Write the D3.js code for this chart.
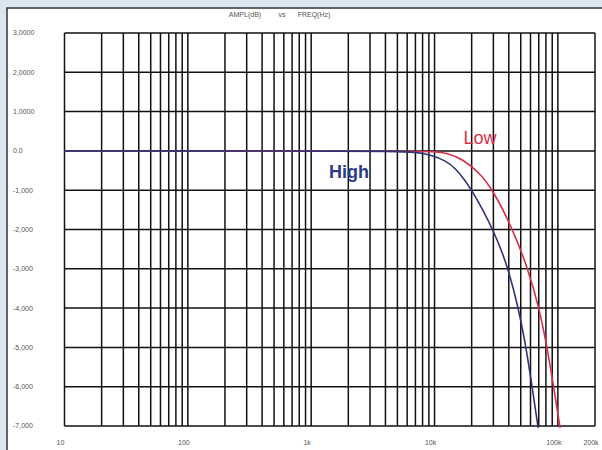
<!DOCTYPE html>
<html>
<head>
<meta charset="utf-8">
<script src="https://cdn.jsdelivr.net/npm/d3@7"></script>
<style>
  body { margin: 0; background: #dce6f1; }
  svg { display: block; font-family: "Liberation Sans", Arial, sans-serif; }
</style>
</head>
<body>
<div id="chart"></div>
<script>
// values: [frequency Hz, amplitude dB]
var highData = [
  [10, 0], [1000, 0], [5000, -0.01], [7000, -0.03], [9200, -0.09], [12600, -0.26],
  [15000, -0.47], [17500, -0.73], [20000, -1], [25000, -1.53], [29900, -2.03],
  [35000, -2.54], [39500, -3.01], [47600, -3.96], [54300, -4.87], [60700, -5.83], [69200, -7.05]
];
var lowData = [
  [10, 0], [1000, 0], [7000, -0.01], [10000, -0.02], [12600, -0.05], [17000, -0.21],
  [23400, -0.57], [29700, -1], [41800, -1.9], [57400, -3], [70500, -4],
  [81800, -5], [91600, -5.92], [104200, -7.05]
];
var yTicks = [3, 2, 1, 0, -1, -2, -3, -4, -5, -6, -7];
var yTickLabels = ['3,0000', '2,0000', '1,0000', '0,0', '-1,000', '-2,000', '-3,000', '-4,000', '-5,000', '-6,000', '-7,000'];
var xTicks = [10, 100, 1000, 10000, 100000, 200000];
var xTickLabels = ['10', '100', '1k', '10k', '100k', '200k'];
var seriesNames = ['High', 'Low'];

var width = 602, height = 450;
var margin = {left: 64.5, right: 7, top: 33, bottom: 24};

var svg = d3.select('#chart').append('svg')
  .attr('width', width)
  .attr('height', height);

// white panel with dark edge
svg.append('rect')
  .attr('x', 7).attr('y', 8)
  .attr('width', width).attr('height', height)
  .style('fill', '#fff')
  .style('stroke', '#333')
  .style('stroke-width', 1.5);

var x = d3.scaleLog()
  .domain([10, 200000])
  .range([margin.left, width - margin.right]);
var y = d3.scaleLinear()
  .domain([-7, 3])
  .range([height - margin.bottom, margin.top]);

var g = svg.append('g');

// vertical grid
g.selectAll('.vgrid')
  .data(x.ticks())
  .enter()
  .append('line')
  .attr('class', 'vgrid')
  .attr('x1', function(d){ return x(d); })
  .attr('x2', function(d){ return x(d); })
  .attr('y1', y(3))
  .attr('y2', y(-7))
  .style('stroke', '#111')
  .style('stroke-width', 1.5);

// horizontal grid
g.selectAll('.hgrid')
  .data(yTicks)
  .enter()
  .append('line')
  .attr('class', 'hgrid')
  .attr('x1', x(10))
  .attr('x2', x(200000))
  .attr('y1', function(d){ return y(d); })
  .attr('y2', function(d){ return y(d); })
  .style('stroke', '#111')
  .style('stroke-width', 1.5);

// y labels
g.selectAll('.ylab')
  .data(yTicks)
  .enter()
  .append('text')
  .attr('class', 'ylab')
  .attr('x', 13)
  .attr('y', function(d){ return y(d); })
  .attr('dy', '0.35em')
  .style('font-size', '7px')
  .style('fill', '#555')
  .text(function(d, i){ return yTickLabels[i]; });

// x labels
g.selectAll('.xlab')
  .data(xTicks)
  .enter()
  .append('text')
  .attr('class', 'xlab')
  .attr('x', function(d){ return x(d) - 4; })
  .attr('y', 445)
  .attr('text-anchor', 'middle')
  .style('font-size', '7px')
  .style('fill', '#555')
  .text(function(d, i){ return xTickLabels[i]; });

// title
var title = [['AMPL(dB)', 245], ['vs', 282], ['FREQ(Hz)', 314]];
title.forEach(function(t){
  svg.append('text')
    .attr('x', t[1]).attr('y', 17)
    .attr('text-anchor', 'middle')
    .style('font-size', '7px')
    .style('fill', '#555')
    .text(t[0]);
});

var line = d3.line()
  .x(function(d){ return x(d[0]); })
  .y(function(d){ return y(d[1]); })
  .curve(d3.curveBasis);

var colors = {High: '#2e3577', Low: '#d8304c'};

// Low first so High sits on top along the flat part
[lowData, highData].forEach(function(data, i){
  var name = seriesNames[1 - i];
  g.append('path')
    .datum(data)
    .attr('d', line)
    .style('fill', 'none')
    .style('stroke', colors[name])
    .style('stroke-width', 1.6);
});

// curve names
svg.append('text')
  .attr('x', 349).attr('y', 178)
  .attr('text-anchor', 'middle')
  .style('font-size', '18px')
  .style('font-weight', 'bold')
  .style('fill', '#2e3a86')
  .text(seriesNames[0]);
svg.append('text')
  .attr('x', 480).attr('y', 144)
  .attr('text-anchor', 'middle')
  .style('font-size', '18px')
  .style('fill', '#d8304c')
  .text(seriesNames[1]);
</script>
</body>
</html>
